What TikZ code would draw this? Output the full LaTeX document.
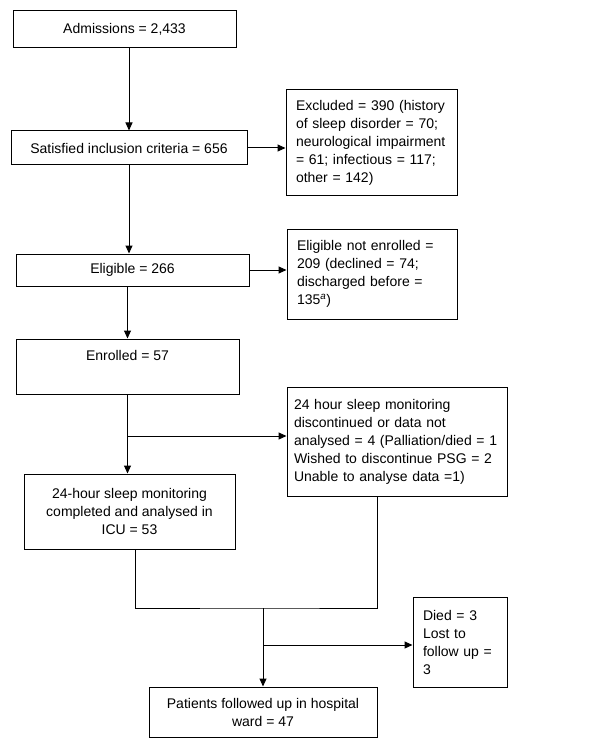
\documentclass[tikz,border=0pt]{standalone}
\usepackage{fontspec}
\setmainfont{Liberation Sans}
\usetikzlibrary{arrows.meta}

\tikzset{
  box/.style={draw, line width=1pt, rectangle, inner sep=0pt, font=\fontsize{14}{18}\selectfont},
  lbox/.style={box, align=left, inner xsep=10pt},
  cbox/.style={box, align=center},
  arr/.style={line width=1pt, -{Triangle[length=8pt,width=7pt]}},
  ln/.style={line width=1pt}
}

\begin{document}
\begin{tikzpicture}[x=1pt,y=-1pt]
      \useasboundingbox (0,0) rectangle (600,751);

      % Main column
      \node[cbox, minimum width=223pt, minimum height=37pt] (adm) at (124.5,29.5) {Admissions = 2,433};
      \node[cbox, minimum width=236pt, minimum height=34pt] (sat) at (129,148) {Satisfied inclusion criteria = 656};
      \node[cbox, minimum width=233pt, minimum height=32pt] (elig) at (132.5,270) {Eligible = 266};
      \node[cbox, minimum width=223pt, minimum height=55pt] (enr) at (127.5,366.5) {\parbox[c][55pt][t]{200pt}{\vspace{11pt}\centering Enrolled = 57}};
      \node[cbox, minimum width=211pt, minimum height=75pt] (comp) at (129.5,511.5) {24-hour sleep monitoring\\completed and analysed in\\ICU = 53};
      \node[cbox, minimum width=228pt, minimum height=50pt] (pat) at (263,712) {Patients followed up in hospital\\ward = 47};

      % Side boxes
      \node[lbox, text width=151pt, minimum height=106pt] (excl) at (371.5,143) {Excluded = 390 (history\\of sleep disorder = 70;\\neurological impairment\\= 61; infectious = 117;\\other = 142)};
      \node[lbox, text width=150pt, minimum height=90pt] (ene) at (372,274) {Eligible not enrolled =\\209 (declined = 74;\\discharged before =\\135\textsuperscript{\textit{a}})};
      \node[lbox, inner xsep=7pt, text width=206pt, minimum height=109pt] (disc) at (397,442) {24 hour sleep monitoring\\discontinued or data not\\analysed = 4 (Palliation/died = 1\\Wished to discontinue PSG = 2\\Unable to analyse data =1)};
      \node[lbox, text width=74pt, minimum height=90pt] (died) at (460,642) {Died = 3\\Lost to\\follow up =\\3};

      % Arrows
      \draw[arr] (adm.south -| sat.north) -- (sat.north);
      \draw[arr] (sat.east) -- (sat.east -| excl.west);
      \draw[arr] (sat.south) -- (sat.south |- elig.north);
      \draw[arr] (elig.east) -- (elig.east -| ene.west);
      \draw[arr] (elig.south -| enr.north) -- (enr.north);
      \draw[arr] (enr.south) -- (enr.south |- comp.north);
      \coordinate (br1) at (enr.south |- 0,436);
      \draw[arr] (br1) -- (br1 -| disc.west);

      % Merge to ward
      \coordinate (mrg) at (pat.north |- 0,608);
      \draw[ln] ([xshift=5.5pt]comp.south) |- (mrg) -| ([xshift=-20pt]disc.south);
      \draw[arr] (mrg) -- (pat.north);
      \coordinate (br2) at (pat.north |- 0,645);
      \draw[arr] (br2) -- (br2 -| died.west);
  \end{tikzpicture}
\end{document}
